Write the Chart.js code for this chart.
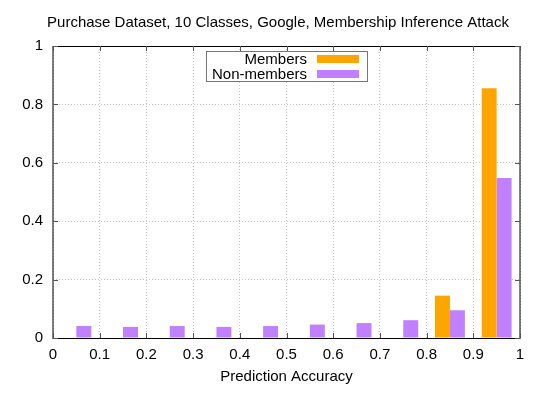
<!DOCTYPE html>
<html>
<head>
<meta charset="utf-8">
<script src="https://cdn.jsdelivr.net/npm/chart.js@4.4.1/dist/chart.umd.min.js"></script>
<style>
  html, body { margin: 0; padding: 0; background: #fff; }
</style>
</head>
<body>
<canvas id="attackChart" width="540" height="403"></canvas>
<script>
// bin centres on the accuracy axis
const binCenters = [0.05, 0.15, 0.25, 0.35, 0.45, 0.55, 0.65, 0.75, 0.85, 0.95];
// fraction of records per bin
const members = [0, 0, 0, 0, 0, 0, 0, 0, 0.145, 0.855];
const nonMembers = [0.041, 0.038, 0.041, 0.038, 0.041, 0.046, 0.051, 0.061, 0.095, 0.548];
const seriesNames = ['Members', 'Non-members'];
const seriesColors = ['#ffa500', '#c080ff'];

const FONT = '"Liberation Sans", Arial, sans-serif';
const FONT_SIZE = 15;
const chartTitle = 'Purchase Dataset, 10 Classes, Google, Membership Inference Attack';

function toPoints(values) {
    return binCenters.map((x, i) => ({ x: x, y: values[i] }));
}

// gnuplot style labels: 0, 0.1, ... 1
function tickText(v) {
    return String(Math.round(v * 10) / 10);
}

// gnuplot-like frame, inward ticks, title and key drawn on top
const gnuplotBits = {
    id: 'gnuplotBits',
    afterDatasetsDraw(chart) {
        const ctx = chart.ctx;
        const a = chart.chartArea;
        const xs = chart.scales.x, ys = chart.scales.y;
        ctx.save();

        // frame
        ctx.strokeStyle = '#000';
        ctx.lineWidth = 1;
        ctx.strokeRect(a.left, a.top + 0.5, a.right - a.left, a.bottom - a.top);

        // inward tick marks on all four sides
        ctx.strokeStyle = '#555';
        ctx.beginPath();
        xs.ticks.forEach(t => {
            const px = Math.round(xs.getPixelForValue(t.value)) + 0.5;
            ctx.moveTo(px, a.bottom); ctx.lineTo(px, a.bottom - 5);
            ctx.moveTo(px, a.top); ctx.lineTo(px, a.top + 5);
        });
        ys.ticks.forEach(t => {
            const py = Math.round(ys.getPixelForValue(t.value)) + 0.5;
            ctx.moveTo(a.left, py); ctx.lineTo(a.left + 5, py);
            ctx.moveTo(a.right, py); ctx.lineTo(a.right - 5, py);
        });
        ctx.stroke();

        // title
        ctx.fillStyle = '#000';
        ctx.font = FONT_SIZE + 'px ' + FONT;
        ctx.textAlign = 'center';
        ctx.textBaseline = 'middle';
        ctx.fillText(chartTitle, 278, 23);

        // key box
        ctx.fillStyle = '#fff';
        ctx.fillRect(206, 51, 162, 31);
        ctx.strokeStyle = '#777';
        ctx.strokeRect(206.5, 51.5, 161, 30);
        ctx.textAlign = 'right';
        chart.data.datasets.forEach((ds, i) => {
            const cy = 59 + i * 15;
            ctx.fillStyle = '#000';
            ctx.fillText(ds.label, 307, cy + 1);
            ctx.fillStyle = ds.backgroundColor;
            ctx.fillRect(317, cy - 4, 42, 8);
        });
        ctx.restore();
    }
};

const ctx = document.getElementById('attackChart').getContext('2d');

const attackChart = new Chart(ctx, {
    type: 'bar',
    data: {
        datasets: [
            { label: seriesNames[0], data: toPoints(members), backgroundColor: seriesColors[0] },
            { label: seriesNames[1], data: toPoints(nonMembers), backgroundColor: seriesColors[1] }
        ]
    },
    options: {
        responsive: false,
        animation: false,
        layout: { padding: { top: 46, right: 20, left: 0, bottom: 0 } },
        categoryPercentage: 0.64,
        barPercentage: 1.0,
        plugins: {
            legend: { display: false },
            title: { display: false },
            tooltip: { enabled: false }
        },
        scales: {
            x: {
                type: 'linear',
                min: 0,
                max: 1,
                offset: false,
                grid: { offset: false, color: '#c4c4c4', drawTicks: false },
                border: { display: false, dash: [1, 2] },
                ticks: {
                    stepSize: 0.1, padding: 8, color: '#000',
                    font: { family: FONT, size: FONT_SIZE },
                    callback: tickText
                },
                title: {
                    display: true,
                    text: 'Prediction Accuracy',
                    color: '#000',
                    font: { family: FONT, size: FONT_SIZE },
                    padding: { top: 0, bottom: 17 }
                },
                afterFit(scale) { scale.height = 65; }
            },
            y: {
                min: 0,
                max: 1,
                grid: { color: '#c4c4c4', drawTicks: false },
                border: { display: false, dash: [1, 2] },
                ticks: {
                    stepSize: 0.2, padding: 10, color: '#000',
                    font: { family: FONT, size: FONT_SIZE },
                    callback: tickText
                },
                afterFit(scale) { scale.width = 53; }
            }
        }
    },
    plugins: [gnuplotBits]
});
</script>
</body>
</html>
